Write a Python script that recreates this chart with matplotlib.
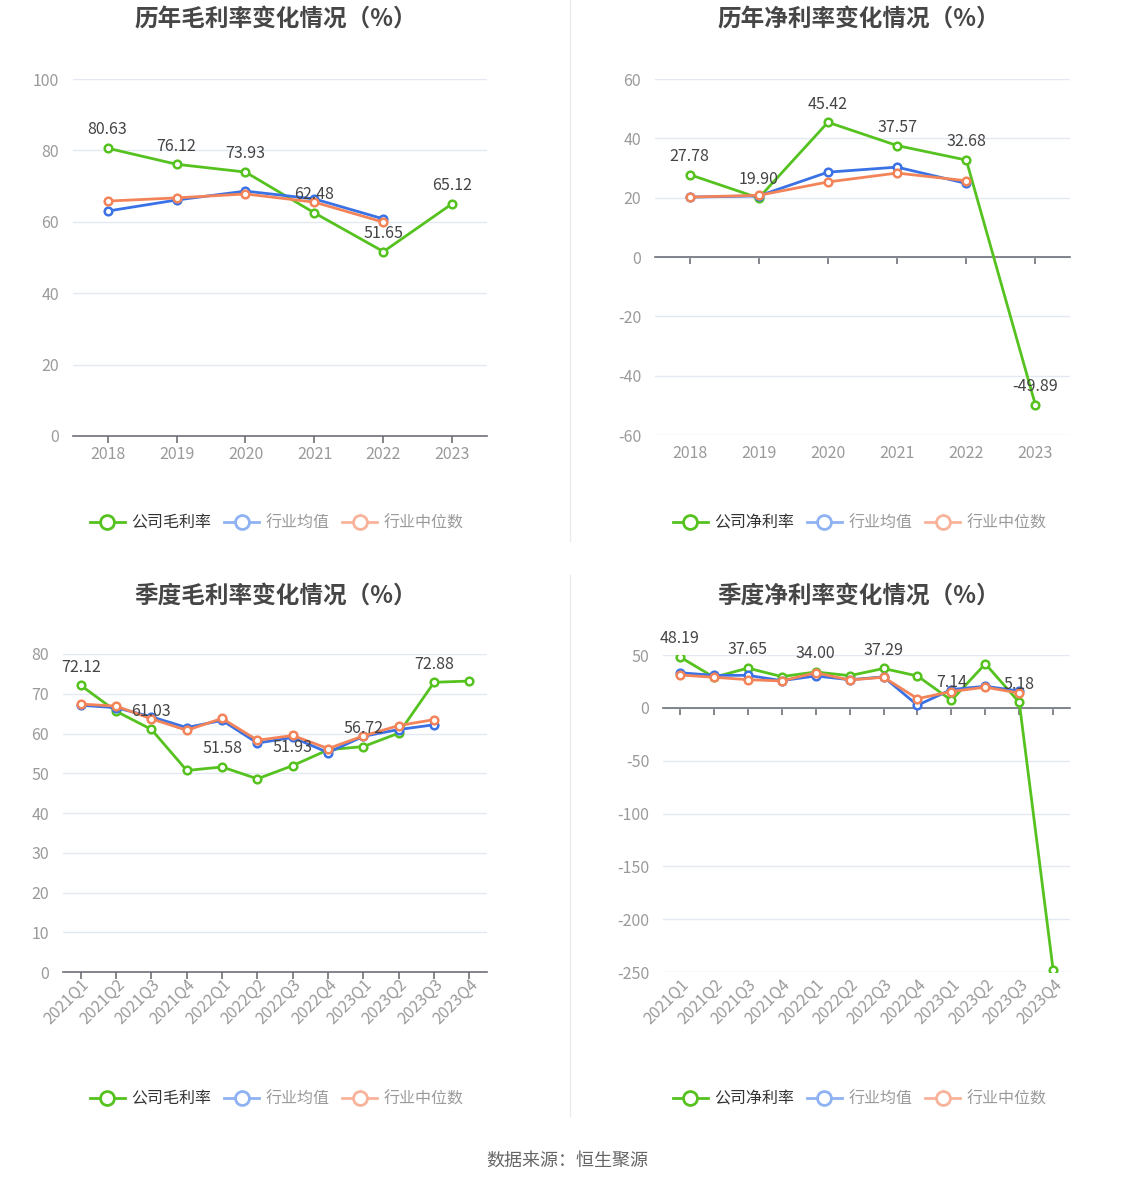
import matplotlib
matplotlib.use("Agg")
import matplotlib.pyplot as plt
from matplotlib.lines import Line2D

plt.rcParams['font.family'] = ['Noto Sans CJK SC', 'DejaVu Sans']

# annual data
years = ['2018', '2019', '2020', '2021', '2022', '2023']
gross_company = [80.63, 76.12, 73.93, 62.48, 51.65, 65.12]
gross_mean = [63.0, 66.1, 68.6, 66.4, 60.8]
gross_median = [65.8, 66.7, 67.8, 65.5, 59.9]
net_company = [27.78, 19.90, 45.42, 37.57, 32.68, -49.89]
net_mean = [20.2, 20.6, 28.6, 30.3, 24.8]
net_median = [20.2, 20.8, 25.3, 28.3, 25.7]

# quarterly data
quarters = ['2021Q1', '2021Q2', '2021Q3', '2021Q4', '2022Q1', '2022Q2',
            '2022Q3', '2022Q4', '2023Q1', '2023Q2', '2023Q3', '2023Q4']
q_gross_company = [72.12, 65.6, 61.03, 50.7, 51.58, 48.6, 51.93, 55.9, 56.72, 60.1, 72.88, 73.2]
q_gross_mean = [67.1, 66.5, 64.2, 61.5, 63.3, 57.6, 59.0, 55.2, 59.3, 61.0, 62.2]
q_gross_median = [67.4, 66.9, 63.7, 60.8, 63.8, 58.3, 59.5, 56.2, 59.4, 62.0, 63.5]
q_net_company = [48.19, 29.0, 37.65, 29.6, 34.00, 30.5, 37.29, 30.2, 7.14, 41.7, 5.18, -248.5]
q_net_mean = [33.3, 30.8, 30.8, 25.8, 30.2, 26.7, 29.3, 2.5, 17.4, 20.5, 15.9]
q_net_median = [31.1, 29.0, 26.7, 25.5, 33.3, 26.4, 29.0, 8.7, 15.5, 19.6, 14.0]

GREEN = '#55c21f'
BLUE = '#3a72e6'
ORANGE = '#f3845a'
GRID = '#e3e8f2'
AXIS = '#6e7079'
LABEL = '#9a9a9a'


def draw_panel(rect, cats, company, mean, median, yticks, label_step, rotate, title, legend_name, legend_x, legend_y, title_x, title_y):
    ax = fig.add_axes(rect)
    x = list(range(len(cats)))
    style = dict(lw=2.0, marker='o', ms=5.5, mfc='white', mew=1.8)
    ax.plot(x, company, color=GREEN, zorder=3, **style)
    ax.plot(x[:len(mean)], mean, color=BLUE, zorder=4, **style)
    ax.plot(x[:len(median)], median, color=ORANGE, zorder=5, **style)

    for i in range(0, len(company), label_step):
        ax.annotate(f'{company[i]:.2f}', (x[i], company[i]), xytext=(0, 7),
                    textcoords='offset points', ha='center', va='bottom',
                    fontsize=11.5, color='#444444', zorder=6)

    ax.set_xlim(-0.5, len(cats) - 0.5)
    ax.set_ylim(yticks[0], yticks[-1])
    ax.set_yticks(yticks)
    ax.set_yticklabels([str(v) for v in yticks])
    ax.grid(axis='y', color=GRID, lw=1)
    ax.set_axisbelow(True)
    for s in ['top', 'right', 'left']:
        ax.spines[s].set_visible(False)
    ax.spines['bottom'].set_position(('data', 0))
    ax.spines['bottom'].set_color(AXIS)
    ax.spines['bottom'].set_linewidth(1.2)
    ax.set_xticks(x)
    ax.tick_params(axis='x', length=5, width=1.2, color=AXIS, labelbottom=False, direction='out')
    ax.tick_params(axis='y', length=0, pad=10, labelsize=11.5, labelcolor=LABEL)

    sec = ax.secondary_xaxis('bottom')
    sec.set_xticks(x)
    sec.spines['bottom'].set_visible(False)
    if rotate:
        sec.set_xticklabels(cats, rotation=45, ha='right', va='top', rotation_mode='anchor')
        sec.tick_params(axis='x', length=0, pad=3, labelsize=11.5, labelcolor=LABEL)
    else:
        sec.set_xticklabels(cats)
        sec.tick_params(axis='x', length=0, pad=7, labelsize=11.5, labelcolor=LABEL)

    fig.text(title_x, title_y, title, ha='center', va='center', fontsize=17,
             fontweight='bold', color='#464646')

    handles = [
        Line2D([], [], color=GREEN, lw=2, marker='o', ms=10, mfc='white', mew=2),
        Line2D([], [], color='#8fb2f3', lw=2, marker='o', ms=10, mfc='white', mew=2),
        Line2D([], [], color='#f8b39a', lw=2, marker='o', ms=10, mfc='white', mew=2),
    ]
    leg = fig.legend(handles, [legend_name, '行业均值', '行业中位数'], loc='center',
                     bbox_to_anchor=(legend_x, legend_y), ncol=3, frameon=False,
                     fontsize=11.5, handlelength=2.2, handletextpad=0.4, columnspacing=0.8)
    for t, c in zip(leg.get_texts(), ['#333333', LABEL, LABEL]):
        t.set_color(c)
    return ax


fig = plt.figure(figsize=(11.34, 11.88), dpi=100)

draw_panel([0.0644, 0.633, 0.365, 0.3005], years, gross_company, gross_mean, gross_median,
           [0, 20, 40, 60, 80, 100], 1, False, '历年毛利率变化情况（%）', '公司毛利率',
           0.244, 0.5597, 0.243, 0.9835)
draw_panel([0.5776, 0.6338, 0.366, 0.2997], years, net_company, net_mean, net_median,
           [-60, -40, -20, 0, 20, 40, 60], 1, False, '历年净利率变化情况（%）', '公司净利率',
           0.758, 0.5597, 0.757, 0.9835)
draw_panel([0.0556, 0.1818, 0.374, 0.2677], quarters, q_gross_company, q_gross_mean, q_gross_median,
           [0, 10, 20, 30, 40, 50, 60, 70, 80], 2, True, '季度毛利率变化情况（%）', '公司毛利率',
           0.244, 0.0749, 0.243, 0.4986)
draw_panel([0.5847, 0.1818, 0.359, 0.2668], quarters, q_net_company, q_net_mean, q_net_median,
           [-250, -200, -150, -100, -50, 0, 50], 2, True, '季度净利率变化情况（%）', '公司净利率',
           0.758, 0.0749, 0.757, 0.4986)

# separators between the panels
fig.add_artist(Line2D([0.5026, 0.5026], [0.545, 1.0], color='#ebebeb', lw=1))
fig.add_artist(Line2D([0.5026, 0.5026], [0.061, 0.516], color='#ebebeb', lw=1))

fig.text(0.5, 0.0227, '数据来源：恒生聚源', ha='center', va='center', fontsize=13, color='#666666')

fig.savefig('out.png', dpi=100, facecolor='white')
